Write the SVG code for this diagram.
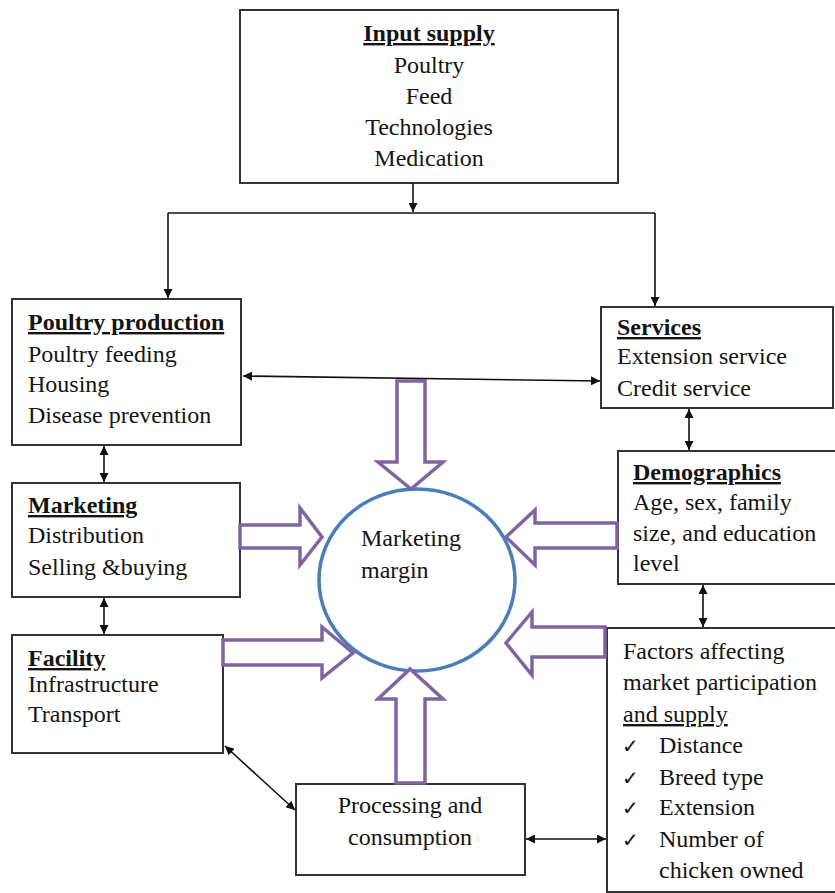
<svg xmlns="http://www.w3.org/2000/svg" width="835" height="893" viewBox="0 0 835 893">
<defs>
<style>
.box{fill:#fff;stroke:#333;stroke-width:2}
.t{font-size:24px;fill:#141414}
.h{font-weight:bold;text-decoration:underline;text-decoration-thickness:2px}
.u{text-decoration:underline}
.c{text-anchor:middle}
.ck{font-size:20px;fill:#141414}
.blk{fill:#fff;stroke:#8064a2;stroke-width:3.5;stroke-linejoin:miter}
.ln{fill:none;stroke:#111;stroke-width:1.6}
.a1{marker-end:url(#ah)}
.a2{marker-start:url(#ah);marker-end:url(#ah)}
</style>
<marker id="ah" viewBox="0 0 10 10" refX="10" refY="5" markerWidth="9" markerHeight="9" markerUnits="userSpaceOnUse" orient="auto-start-reverse">
<path d="M0,0 L10,5 L0,10 z" fill="#111"/>
</marker>
</defs>
<rect width="835" height="893" fill="#fff"/>

<g id="input-supply">
<rect class="box" x="240" y="10" width="378" height="173"/>
<text class="t h c" x="429" y="41" font-family="Liberation Serif">Input supply</text>
<text class="t c" x="429" y="73" font-family="Liberation Serif">Poultry</text>
<text class="t c" x="429" y="104" font-family="Liberation Serif">Feed</text>
<text class="t c" x="429" y="135" font-family="Liberation Serif">Technologies</text>
<text class="t c" x="429" y="166" font-family="Liberation Serif">Medication</text>
</g>

<g id="poultry-production">
<rect class="box" x="12" y="299" width="229" height="146"/>
<text class="t h" x="28" y="330" font-family="Liberation Serif">Poultry production</text>
<text class="t" x="28" y="362" font-family="Liberation Serif">Poultry feeding</text>
<text class="t" x="28" y="392" font-family="Liberation Serif">Housing</text>
<text class="t" x="28" y="423" font-family="Liberation Serif">Disease prevention</text>
</g>

<g id="services">
<rect class="box" x="601" y="307" width="232" height="101"/>
<text class="t h" x="617" y="335" font-family="Liberation Serif">Services</text>
<text class="t" x="617" y="364" font-family="Liberation Serif">Extension service</text>
<text class="t" x="617" y="396" font-family="Liberation Serif">Credit service</text>
</g>

<g id="marketing">
<rect class="box" x="12" y="483" width="228" height="114"/>
<text class="t h" x="28" y="513" font-family="Liberation Serif">Marketing</text>
<text class="t" x="28" y="543" font-family="Liberation Serif">Distribution</text>
<text class="t" x="28" y="575" font-family="Liberation Serif">Selling &amp;buying</text>
</g>

<g id="demographics">
<rect class="box" x="618" y="451" width="230" height="133"/>
<text class="t h" x="633" y="480" font-family="Liberation Serif">Demographics</text>
<text class="t" x="633" y="510" font-family="Liberation Serif">Age, sex, family</text>
<text class="t" x="633" y="541" font-family="Liberation Serif">size, and education</text>
<text class="t" x="633" y="571" font-family="Liberation Serif">level</text>
</g>

<g id="facility">
<rect class="box" x="12" y="635" width="211" height="118"/>
<text class="t h" x="28" y="666" font-family="Liberation Serif">Facility</text>
<text class="t" x="28" y="692" font-family="Liberation Serif">Infrastructure</text>
<text class="t" x="28" y="722" font-family="Liberation Serif">Transport</text>
</g>

<g id="factors">
<rect class="box" x="607" y="628" width="240" height="264"/>
<text class="t" x="623" y="659" font-family="Liberation Serif">Factors affecting</text>
<text class="t" x="623" y="690" font-family="Liberation Serif">market participation</text>
<text class="t u" x="623" y="722" font-family="Liberation Serif">and supply</text>
<text class="ck" x="622" y="753" font-family="DejaVu Sans">✓</text>
<text class="t" x="659" y="753" font-family="Liberation Serif">Distance</text>
<text class="ck" x="622" y="785" font-family="DejaVu Sans">✓</text>
<text class="t" x="659" y="785" font-family="Liberation Serif">Breed type</text>
<text class="ck" x="622" y="815" font-family="DejaVu Sans">✓</text>
<text class="t" x="659" y="815" font-family="Liberation Serif">Extension</text>
<text class="ck" x="622" y="847" font-family="DejaVu Sans">✓</text>
<text class="t" x="659" y="847" font-family="Liberation Serif">Number of</text>
<text class="t" x="659" y="878" font-family="Liberation Serif">chicken owned</text>
</g>

<g id="processing">
<rect class="box" x="296" y="784" width="229" height="91"/>
<text class="t c" x="410" y="813" font-family="Liberation Serif">Processing and</text>
<text class="t c" x="410" y="845" font-family="Liberation Serif">consumption</text>
</g>

<g id="marketing-margin">
<ellipse cx="417" cy="580" rx="98" ry="91" fill="#fff" stroke="#4a7ebb" stroke-width="3.5"/>
<text class="t" x="361" y="546" font-family="Liberation Serif">Marketing</text>
<text class="t" x="361" y="578" font-family="Liberation Serif">margin</text>
</g>

<g id="block-arrows">
<polygon class="blk" points="397,381 425,381 425,462 443,462 411,489 378,462 397,462"/>
<polygon class="blk" points="240,525 300,525 300,508 322,537 300,565 300,548 240,548"/>
<polygon class="blk" points="617,523 535,523 535,510 506,537 535,565 535,548 617,548"/>
<polygon class="blk" points="223,640 322,640 322,627 353,653 322,678 322,665 223,665"/>
<polygon class="blk" points="605,627 532,627 532,612 506,643 532,675 532,657 605,657"/>
<polygon class="blk" points="396,783 396,699 378,699 410,669 443,699 425,699 425,783"/>
</g>

<g id="connectors">
<path class="ln a1" d="M413,183 V212"/>
<path class="ln" d="M168,213 H655"/>
<path class="ln a1" d="M168,213 V298"/>
<path class="ln a1" d="M655,213 V306"/>
<path class="ln a2" d="M243,376 L600,381"/>
<path class="ln a2" d="M104,446 V482"/>
<path class="ln a2" d="M104,598 V634"/>
<path class="ln a2" d="M689,409 V450"/>
<path class="ln a2" d="M703,585 V627"/>
<path class="ln a2" d="M225,746 L295,810"/>
<path class="ln a2" d="M526,839 H606"/>
</g>
</svg>
